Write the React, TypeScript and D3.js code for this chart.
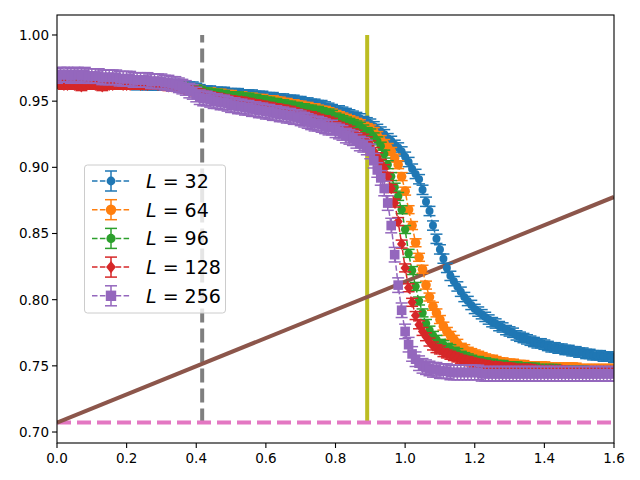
import * as d3 from "d3";

// x grid of the measurements (step 0.01)
const xs = [
  0, 0.01, 0.02, 0.03, 0.04, 0.05, 0.06, 0.07, 0.08, 0.09,
  0.1, 0.11, 0.12, 0.13, 0.14, 0.15, 0.16, 0.17, 0.18, 0.19,
  0.2, 0.21, 0.22, 0.23, 0.24, 0.25, 0.26, 0.27, 0.28, 0.29,
  0.3, 0.31, 0.32, 0.33, 0.34, 0.35, 0.36, 0.37, 0.38, 0.39,
  0.4, 0.41, 0.42, 0.43, 0.44, 0.45, 0.46, 0.47, 0.48, 0.49,
  0.5, 0.51, 0.52, 0.53, 0.54, 0.55, 0.56, 0.57, 0.58, 0.59,
  0.6, 0.61, 0.62, 0.63, 0.64, 0.65, 0.66, 0.67, 0.68, 0.69,
  0.7, 0.71, 0.72, 0.73, 0.74, 0.75, 0.76, 0.77, 0.78, 0.79,
  0.8, 0.81, 0.82, 0.83, 0.84, 0.85, 0.86, 0.87, 0.88, 0.89,
  0.9, 0.91, 0.92, 0.93, 0.94, 0.95, 0.96, 0.97, 0.98, 0.99,
  1.0, 1.01, 1.02, 1.03, 1.04, 1.05, 1.06, 1.07, 1.08, 1.09,
  1.1, 1.11, 1.12, 1.13, 1.14, 1.15, 1.16, 1.17, 1.18, 1.19,
  1.2, 1.21, 1.22, 1.23, 1.24, 1.25, 1.26, 1.27, 1.28, 1.29,
  1.3, 1.31, 1.32, 1.33, 1.34, 1.35, 1.36, 1.37, 1.38, 1.39,
  1.4, 1.41, 1.42, 1.43, 1.44, 1.45, 1.46, 1.47, 1.48, 1.49,
  1.5, 1.51, 1.52, 1.53, 1.54, 1.55, 1.56, 1.57, 1.58, 1.59,
  1.6,
];

const yL32 = [
  0.964, 0.963, 0.963, 0.964, 0.964, 0.963, 0.964, 0.964, 0.963, 0.964,
  0.964, 0.963, 0.963, 0.964, 0.963, 0.963, 0.964, 0.963, 0.963, 0.963,
  0.963, 0.963, 0.963, 0.962, 0.963, 0.963, 0.962, 0.962, 0.962, 0.962,
  0.962, 0.963, 0.962, 0.962, 0.963, 0.962, 0.962, 0.961, 0.961, 0.961,
  0.96, 0.959, 0.958, 0.958, 0.958, 0.957, 0.957, 0.957, 0.957, 0.956,
  0.956, 0.956, 0.956, 0.955, 0.955, 0.955, 0.955, 0.954, 0.954, 0.954,
  0.953, 0.953, 0.953, 0.952, 0.952, 0.952, 0.951, 0.951, 0.951, 0.95,
  0.95, 0.949, 0.949, 0.948, 0.948, 0.947, 0.947, 0.946, 0.945, 0.944,
  0.943, 0.943, 0.942, 0.941, 0.94, 0.939, 0.938, 0.937, 0.935, 0.934,
  0.933, 0.931, 0.929, 0.927, 0.925, 0.922, 0.92, 0.917, 0.915, 0.912,
  0.908, 0.904, 0.899, 0.895, 0.891, 0.883, 0.874, 0.867, 0.856, 0.846,
  0.838, 0.831, 0.824, 0.818, 0.814, 0.81, 0.806, 0.802, 0.799, 0.796,
  0.793, 0.791, 0.789, 0.787, 0.785, 0.783, 0.782, 0.78, 0.779, 0.777,
  0.776, 0.775, 0.773, 0.772, 0.771, 0.77, 0.769, 0.768, 0.767, 0.767,
  0.766, 0.765, 0.764, 0.764, 0.763, 0.763, 0.762, 0.762, 0.761, 0.761,
  0.76, 0.76, 0.759, 0.759, 0.758, 0.758, 0.758, 0.757, 0.757, 0.757,
  0.756,
];

const yL64 = [
  0.963, 0.964, 0.963, 0.963, 0.963, 0.964, 0.963, 0.963, 0.964, 0.963,
  0.963, 0.964, 0.963, 0.963, 0.963, 0.964, 0.963, 0.963, 0.963, 0.964,
  0.963, 0.963, 0.963, 0.963, 0.962, 0.963, 0.962, 0.962, 0.963, 0.962,
  0.962, 0.962, 0.962, 0.962, 0.962, 0.961, 0.961, 0.96, 0.96, 0.959,
  0.959, 0.958, 0.957, 0.957, 0.957, 0.956, 0.956, 0.956, 0.955, 0.955,
  0.955, 0.954, 0.954, 0.954, 0.953, 0.953, 0.953, 0.952, 0.952, 0.952,
  0.951, 0.951, 0.951, 0.95, 0.95, 0.949, 0.949, 0.948, 0.948, 0.947,
  0.947, 0.946, 0.946, 0.945, 0.945, 0.944, 0.943, 0.943, 0.942, 0.941,
  0.94, 0.939, 0.938, 0.937, 0.936, 0.935, 0.934, 0.933, 0.931, 0.93,
  0.929, 0.927, 0.924, 0.921, 0.918, 0.915, 0.912, 0.907, 0.902, 0.893,
  0.882, 0.868, 0.856, 0.843, 0.832, 0.823, 0.811, 0.802, 0.795, 0.79,
  0.785, 0.78, 0.776, 0.773, 0.77, 0.767, 0.764, 0.763, 0.761, 0.76,
  0.759, 0.758, 0.757, 0.756, 0.755, 0.755, 0.754, 0.753, 0.753, 0.752,
  0.752, 0.752, 0.751, 0.751, 0.751, 0.75, 0.75, 0.75, 0.75, 0.75,
  0.75, 0.749, 0.749, 0.749, 0.749, 0.749, 0.749, 0.749, 0.749, 0.749,
  0.748, 0.748, 0.748, 0.748, 0.748, 0.748, 0.748, 0.748, 0.748, 0.748,
  0.748,
];

const yL96 = [
  0.964, 0.963, 0.963, 0.963, 0.964, 0.963, 0.963, 0.964, 0.963, 0.963,
  0.963, 0.963, 0.964, 0.963, 0.963, 0.963, 0.963, 0.963, 0.964, 0.963,
  0.964, 0.963, 0.963, 0.962, 0.962, 0.963, 0.963, 0.962, 0.962, 0.962,
  0.963, 0.962, 0.962, 0.962, 0.962, 0.961, 0.961, 0.96, 0.96, 0.959,
  0.959, 0.958, 0.957, 0.957, 0.956, 0.956, 0.956, 0.955, 0.955, 0.954,
  0.954, 0.954, 0.954, 0.953, 0.953, 0.953, 0.952, 0.952, 0.951, 0.951,
  0.95, 0.95, 0.949, 0.949, 0.948, 0.948, 0.947, 0.947, 0.946, 0.946,
  0.945, 0.945, 0.944, 0.944, 0.943, 0.943, 0.942, 0.941, 0.941, 0.94,
  0.938, 0.937, 0.936, 0.935, 0.934, 0.933, 0.932, 0.931, 0.929, 0.927,
  0.926, 0.923, 0.92, 0.916, 0.91, 0.902, 0.893, 0.885, 0.878, 0.868,
  0.853, 0.835, 0.822, 0.81, 0.799, 0.79, 0.782, 0.777, 0.773, 0.77,
  0.767, 0.766, 0.764, 0.763, 0.761, 0.76, 0.758, 0.757, 0.756, 0.755,
  0.754, 0.754, 0.753, 0.753, 0.752, 0.752, 0.751, 0.751, 0.751, 0.75,
  0.75, 0.75, 0.75, 0.749, 0.749, 0.749, 0.749, 0.749, 0.748, 0.748,
  0.748, 0.748, 0.748, 0.748, 0.747, 0.747, 0.747, 0.747, 0.747, 0.747,
  0.747, 0.747, 0.746, 0.746, 0.746, 0.746, 0.746, 0.746, 0.746, 0.746,
  0.746,
];

const yL128 = [
  0.964, 0.963, 0.962, 0.962, 0.963, 0.962, 0.962, 0.961, 0.962, 0.963,
  0.963, 0.962, 0.962, 0.961, 0.962, 0.962, 0.962, 0.963, 0.963, 0.962,
  0.962, 0.962, 0.963, 0.963, 0.962, 0.962, 0.962, 0.963, 0.963, 0.962,
  0.962, 0.962, 0.961, 0.961, 0.962, 0.961, 0.96, 0.959, 0.958, 0.958,
  0.957, 0.956, 0.955, 0.954, 0.954, 0.953, 0.953, 0.952, 0.952, 0.951,
  0.951, 0.95, 0.95, 0.95, 0.949, 0.949, 0.948, 0.948, 0.947, 0.947,
  0.946, 0.946, 0.945, 0.945, 0.944, 0.944, 0.943, 0.943, 0.942, 0.941,
  0.94, 0.94, 0.939, 0.939, 0.938, 0.937, 0.936, 0.936, 0.935, 0.934,
  0.932, 0.931, 0.93, 0.929, 0.928, 0.926, 0.925, 0.923, 0.922, 0.92,
  0.917, 0.912, 0.908, 0.903, 0.899, 0.893, 0.884, 0.873, 0.859, 0.842,
  0.824, 0.809, 0.798, 0.788, 0.781, 0.776, 0.772, 0.768, 0.765, 0.763,
  0.762, 0.76, 0.759, 0.758, 0.757, 0.756, 0.755, 0.754, 0.754, 0.753,
  0.752, 0.752, 0.751, 0.751, 0.75, 0.75, 0.75, 0.749, 0.749, 0.749,
  0.749, 0.748, 0.748, 0.748, 0.748, 0.748, 0.748, 0.747, 0.747, 0.747,
  0.747, 0.747, 0.747, 0.747, 0.747, 0.747, 0.746, 0.746, 0.746, 0.746,
  0.746, 0.746, 0.746, 0.746, 0.746, 0.746, 0.746, 0.746, 0.746, 0.746,
  0.746,
];

const yL256 = [
  0.969, 0.97, 0.97, 0.97, 0.969, 0.97, 0.97, 0.969, 0.97, 0.969,
  0.969, 0.969, 0.969, 0.968, 0.968, 0.968, 0.968, 0.968, 0.967, 0.967,
  0.967, 0.967, 0.966, 0.966, 0.966, 0.966, 0.966, 0.965, 0.965, 0.965,
  0.965, 0.964, 0.964, 0.963, 0.963, 0.962, 0.961, 0.96, 0.958, 0.957,
  0.955, 0.953, 0.952, 0.952, 0.951, 0.95, 0.95, 0.949, 0.949, 0.948,
  0.947, 0.947, 0.946, 0.946, 0.945, 0.945, 0.944, 0.944, 0.943, 0.943,
  0.942, 0.942, 0.941, 0.941, 0.94, 0.94, 0.939, 0.939, 0.938, 0.938,
  0.937, 0.936, 0.935, 0.934, 0.933, 0.933, 0.932, 0.931, 0.93, 0.93,
  0.928, 0.927, 0.926, 0.924, 0.923, 0.922, 0.92, 0.918, 0.917, 0.915,
  0.912, 0.905, 0.898, 0.892, 0.884, 0.873, 0.856, 0.834, 0.811, 0.792,
  0.776, 0.766, 0.759, 0.755, 0.752, 0.75, 0.749, 0.748, 0.747, 0.747,
  0.746, 0.746, 0.746, 0.745, 0.745, 0.745, 0.745, 0.745, 0.745, 0.745,
  0.745, 0.745, 0.744, 0.744, 0.744, 0.744, 0.744, 0.744, 0.744, 0.744,
  0.744, 0.744, 0.744, 0.744, 0.744, 0.744, 0.744, 0.744, 0.744, 0.744,
  0.744, 0.744, 0.744, 0.744, 0.744, 0.744, 0.744, 0.744, 0.744, 0.744,
  0.744, 0.744, 0.744, 0.744, 0.744, 0.744, 0.744, 0.744, 0.744, 0.744,
  0.744,
];

const labels = ["32", "64", "96", "128", "256"];
const colors = ["#1f77b4", "#ff7f0e", "#2ca02c", "#d62728", "#9467bd"];
const markers = ["circle", "circle", "circle", "diamond", "square"];
const markerSizes = [4, 4.8, 4.2, 5.8, 4.8];
const errs = [0.0035, 0.003, 0.003, 0.003, 0.0055];
const seriesY = [yL32, yL64, yL96, yL128, yL256];

const xTicks = [0, 0.2, 0.4, 0.6, 0.8, 1.0, 1.2, 1.4, 1.6];
const yTicks = [0.7, 0.75, 0.8, 0.85, 0.9, 0.95, 1.0];

// reference lines
const grayX = 0.417;
const yellowX = 0.891;
const pinkY = 0.7071;
const vTop = 1.0;
const brownLine = [
  [0, 0.7071],
  [1.6, 0.8776],
];

const W = 640;
const H = 480;
const left = 57;
const right = 614;
const top = 15;
const bottom = 443;

const x = d3.scaleLinear().domain([0, 1.6]).range([left, right]);
const y = d3.scaleLinear().domain([0.6917, 1.0151]).range([bottom, top]);

const font = "DejaVu Sans, sans-serif";
const capW = 6;

const Marker = ({ kind, cx, cy, r, color }: any) => {
  if (kind === "diamond") {
    return (
      <path
        d={`M${cx},${cy - r}L${cx + r * 0.8},${cy}L${cx},${cy + r}L${cx - r * 0.8},${cy}Z`}
        fill={color}
      />
    );
  }
  if (kind === "square") {
    return <rect x={cx - r} y={cy - r} width={2 * r} height={2 * r} fill={color} />;
  }
  return <circle cx={cx} cy={cy} r={r} fill={color} />;
};

const Series = ({ i }: any) => {
  const ys = seriesY[i];
  const c = colors[i];
  const e = errs[i];
  const line = d3
    .line<number>()
    .x((_, k) => x(xs[k]))
    .y((d) => y(d));
  return (
    <g>
      <path d={line(ys) || ""} fill="none" stroke={c} strokeWidth={1.5} strokeDasharray="5.5,2.4" />
      {ys.map((v, k) => (
        <g key={k} stroke={c} strokeWidth={1.5}>
          <line x1={x(xs[k])} x2={x(xs[k])} y1={y(v - e)} y2={y(v + e)} />
          <line x1={x(xs[k]) - capW} x2={x(xs[k]) + capW} y1={y(v - e)} y2={y(v - e)} />
          <line x1={x(xs[k]) - capW} x2={x(xs[k]) + capW} y1={y(v + e)} y2={y(v + e)} />
        </g>
      ))}
      {ys.map((v, k) => (
        <Marker key={k} kind={markers[i]} cx={x(xs[k])} cy={y(v)} r={markerSizes[i]} color={c} />
      ))}
    </g>
  );
};

const Legend = () => {
  const lx = 84.5;
  const ly = 165;
  const rowH = 28.7;
  return (
    <g>
      <rect
        x={lx}
        y={ly}
        width={141}
        height={148}
        rx={3}
        fill="white"
        fillOpacity={0.8}
        stroke="#cccccc"
        strokeWidth={1}
      />
      {labels.map((lab, i) => {
        const cy = ly + 16 + i * rowH;
        const cx = 111;
        return (
          <g key={lab}>
            <line x1={92} x2={131} y1={cy} y2={cy} stroke={colors[i]} strokeWidth={1.5} strokeDasharray="5.5,2.4" />
            <g stroke={colors[i]} strokeWidth={1.5}>
              <line x1={cx} x2={cx} y1={cy - 10} y2={cy + 10} />
              <line x1={cx - 6} x2={cx + 6} y1={cy - 10} y2={cy - 10} />
              <line x1={cx - 6} x2={cx + 6} y1={cy + 10} y2={cy + 10} />
            </g>
            <Marker kind={markers[i]} cx={cx} cy={cy} r={markerSizes[i] + 0.4} color={colors[i]} />
            <text x={146} y={cy + 7} fontSize={19} fontFamily={font} fill="#000">
              <tspan fontStyle="italic">L</tspan>
              <tspan> = {lab}</tspan>
            </text>
          </g>
        );
      })}
    </g>
  );
};

export default function App() {
  return (
    <svg
      width={W}
      height={H}
      style={{ position: "absolute", left: 0, top: 0, background: "white" }}
    >
      <defs>
        <clipPath id="plot">
          <rect x={left} y={top} width={right - left} height={bottom - top} />
        </clipPath>
      </defs>
      <g clipPath="url(#plot)">
        <line
          x1={x(grayX)}
          x2={x(grayX)}
          y1={y(pinkY)}
          y2={y(vTop)}
          stroke="#7f7f7f"
          strokeWidth={4}
          strokeDasharray="14,6"
        />
        <line
          x1={x(yellowX)}
          x2={x(yellowX)}
          y1={y(pinkY)}
          y2={y(vTop)}
          stroke="#bcbd22"
          strokeWidth={4}
        />
        <line
          x1={x(0)}
          x2={x(1.6)}
          y1={y(pinkY)}
          y2={y(pinkY)}
          stroke="#e377c2"
          strokeWidth={4}
          strokeDasharray="14,6"
        />
        <line
          x1={x(brownLine[0][0])}
          x2={x(brownLine[1][0])}
          y1={y(brownLine[0][1])}
          y2={y(brownLine[1][1])}
          stroke="#8c564b"
          strokeWidth={4}
        />
        {labels.map((_, i) => (
          <Series key={i} i={i} />
        ))}
      </g>
      <Legend />
      <rect
        x={left}
        y={top}
        width={right - left}
        height={bottom - top}
        fill="none"
        stroke="#000"
        strokeWidth={1.1}
      />
      {xTicks.map((t) => (
        <g key={t}>
          <line x1={x(t)} x2={x(t)} y1={bottom} y2={bottom + 5} stroke="#000" strokeWidth={1.1} />
          <text
            x={x(t)}
            y={bottom + 20}
            textAnchor="middle"
            fontSize={13.5}
            fontFamily={font}
            fill="#000"
          >
            {t.toFixed(1)}
          </text>
        </g>
      ))}
      {yTicks.map((t) => (
        <g key={t}>
          <line x1={left - 5} x2={left} y1={y(t)} y2={y(t)} stroke="#000" strokeWidth={1.1} />
          <text
            x={left - 8}
            y={y(t) + 5}
            textAnchor="end"
            fontSize={13.5}
            fontFamily={font}
            fill="#000"
          >
            {t.toFixed(2)}
          </text>
        </g>
      ))}
    </svg>
  );
}
